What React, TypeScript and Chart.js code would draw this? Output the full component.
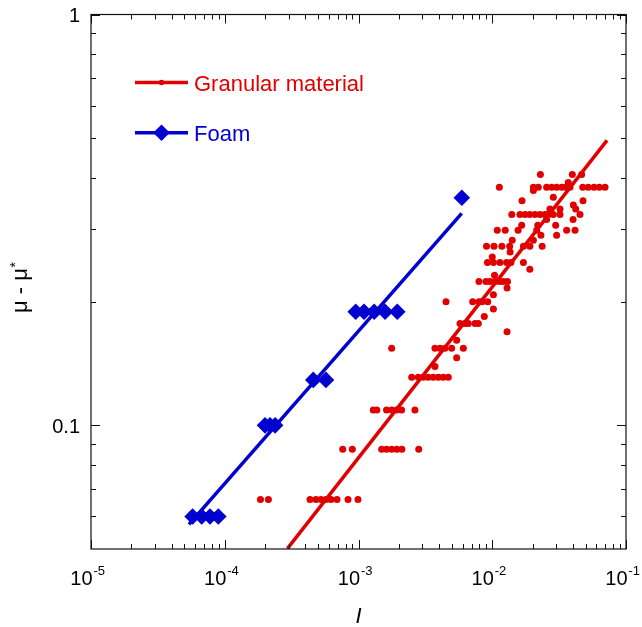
import { useEffect, useRef } from "react";
import { Chart, registerables } from "chart.js";

Chart.register(...registerables);

const RED = "#e00000";
const BLUE = "#0000d0";
const FONT = "'Liberation Sans', Arial, Helvetica, sans-serif";

// Granular material: friction levels (mu - mu*) and the inertial numbers I observed at each level
const GRANULAR_MU_LEVELS = [
  0.066, 0.0874, 0.109, 0.131, 0.139, 0.146, 0.154, 0.161, 0.169, 0.177, 0.184, 0.192,
  0.2, 0.208, 0.216, 0.224, 0.232, 0.24, 0.249, 0.257, 0.264, 0.273, 0.282, 0.29,
  0.2985, 0.307, 0.317, 0.326, 0.336, 0.344, 0.352, 0.359, 0.373, 0.38, 0.39, 0.408,
];
const GRANULAR_I_ROWS = [
  [1.85e-4, 2.12e-4, 4.34e-4, 4.81e-4, 5.24e-4, 5.71e-4, 6.23e-4, 6.91e-4, 8.35e-4, 9.91e-4],
  [7.62e-4, 8.99e-4, 1.49e-3, 1.62e-3, 1.77e-3, 1.93e-3, 2.11e-3, 2.82e-3],
  [1.29e-3, 1.37e-3, 1.62e-3, 1.77e-3, 1.93e-3, 2.1e-3, 2.64e-3],
  [2.5e-3, 2.8e-3, 3.05e-3, 3.32e-3, 3.62e-3, 3.95e-3, 4.31e-3, 4.69e-3],
  [3.73e-3],
  [5.42e-3],
  [1.77e-3, 3.73e-3, 4.07e-3, 4.43e-3, 4.97e-3, 6.08e-3],
  [5.42e-3],
  [1.29e-2],
  [5.74e-3, 6.26e-3, 6.62e-3, 7.43e-3, 7.87e-3],
  [8.72e-3],
  [1.02e-2],
  [4.51e-3, 7.14e-3, 7.96e-3, 8.38e-3, 9.25e-3],
  [1.02e-2],
  [1.29e-2],
  [7.96e-3, 8.98e-3, 9.62e-3, 1.05e-2, 1.14e-2, 1.21e-2, 1.3e-2],
  [1.04e-2],
  [1.91e-2],
  [9.21e-3, 1.02e-2, 1.14e-2, 1.28e-2, 1.38e-2, 1.71e-2],
  [1.0e-2],
  [1.36e-2],
  [9.06e-3, 1.03e-2, 1.18e-2, 1.35e-2, 1.71e-2, 1.91e-2, 2.36e-2],
  [1.41e-2, 2.03e-2],
  [2.31e-2, 3.03e-2],
  [1.09e-2, 1.25e-2, 1.56e-2, 2.15e-2, 3.6e-2, 4.16e-2],
  [1.66e-2, 2.19e-2, 2.98e-2],
  [2.55e-2, 4.02e-2],
  [1.4e-2, 1.61e-2, 1.76e-2, 1.91e-2, 2.09e-2, 2.28e-2, 2.48e-2, 2.62e-2, 2.86e-2, 3.21e-2, 4.53e-2],
  [2.7e-2, 3.21e-2, 4.21e-2],
  [4.04e-2],
  [1.67e-2, 4.77e-2],
  [2.86e-2],
  [2.03e-2],
  [1.13e-2, 2.03e-2, 2.21e-2, 2.55e-2, 2.78e-2, 3.03e-2, 3.31e-2, 3.56e-2, 3.81e-2, 4.75e-2, 5.22e-2, 5.77e-2, 6.31e-2, 6.97e-2],
  [3.7e-2],
  [2.29e-2, 3.97e-2, 4.66e-2],
];
const GRANULAR_FIT_I = [2.94e-4, 0.0721];
const GRANULAR_FIT_MU = [0.0501, 0.494];

// Foam
const FOAM_I = [
  5.75e-5, 6.72e-5, 7.76e-5, 8.95e-5, 2.0e-4, 2.18e-4, 2.38e-4, 4.59e-4, 5.71e-4,
  9.53e-4, 1.1e-3, 1.31e-3, 1.58e-3, 1.95e-3, 5.92e-3,
];
const FOAM_MU = [0.06, 0.06, 0.06, 0.06, 0.1, 0.1, 0.1, 0.129, 0.129, 0.189, 0.189, 0.189, 0.189, 0.189, 0.358];
const FOAM_FIT_I = [5.4e-5, 5.91e-3];
const FOAM_FIT_MU = [0.0574, 0.328];

// Axes
const X_MIN = 1e-5;
const X_MAX = 1e-1;
const Y_MIN = 0.05;
const Y_MAX = 1;
const X_TICK_VALUES = [1e-5, 1e-4, 1e-3, 1e-2, 1e-1];
const X_TICK_EXPONENTS = ["-5", "-4", "-3", "-2", "-1"];
const X_MINOR_MANTISSAS = [2, 3, 4, 5, 6, 7, 8, 9];
const X_MINOR_DECADES = [1e-5, 1e-4, 1e-3, 1e-2];
const Y_TICK_VALUES = [0.1, 1];
const Y_TICK_LABELS = ["0.1", "1"];
const Y_MINOR_VALUES = [0.06, 0.07, 0.08, 0.09, 0.2, 0.3, 0.4, 0.5, 0.6, 0.7, 0.8, 0.9];

const LEGEND_LABELS = ["Granular material", "Foam"];

const CANVAS_W = 642;
const CANVAS_H = 627;

const decorPlugin = {
  id: "decor",
  afterDraw(chart: any) {
    const { ctx, chartArea: a } = chart;
    const xs = chart.scales.x;
    const ys = chart.scales.y;
    ctx.save();

    // frame
    ctx.strokeStyle = "#111";
    ctx.lineWidth = 1.2;
    ctx.strokeRect(a.left, a.top, a.right - a.left, a.bottom - a.top);

    // inward ticks on all sides
    const MAJ = 9;
    const MIN = 5;
    ctx.lineWidth = 1;
    ctx.beginPath();
    const xTick = (v: number, len: number) => {
      const px = Math.round(xs.getPixelForValue(v)) + 0.5;
      ctx.moveTo(px, a.bottom);
      ctx.lineTo(px, a.bottom - len);
      ctx.moveTo(px, a.top);
      ctx.lineTo(px, a.top + len);
    };
    const yTick = (v: number, len: number) => {
      const py = Math.round(ys.getPixelForValue(v)) + 0.5;
      ctx.moveTo(a.left, py);
      ctx.lineTo(a.left + len, py);
      ctx.moveTo(a.right, py);
      ctx.lineTo(a.right - len, py);
    };
    X_TICK_VALUES.forEach((v) => xTick(v, MAJ));
    X_MINOR_DECADES.forEach((d) => X_MINOR_MANTISSAS.forEach((m) => xTick(m * d, MIN)));
    Y_TICK_VALUES.forEach((v) => yTick(v, MAJ));
    Y_MINOR_VALUES.forEach((v) => yTick(v, MIN));
    ctx.stroke();

    // x tick labels 10^n
    ctx.fillStyle = "#000";
    ctx.textBaseline = "alphabetic";
    ctx.textAlign = "left";
    X_TICK_VALUES.forEach((v, i) => {
      const px = xs.getPixelForValue(v);
      ctx.font = `20px ${FONT}`;
      const wBase = ctx.measureText("10").width;
      const start = px - wBase + 1.5;
      const base = a.bottom + 35.5;
      ctx.fillText("10", start, base);
      ctx.font = `13px ${FONT}`;
      ctx.fillText(X_TICK_EXPONENTS[i], start + wBase + 1, base - 10);
    });

    // y tick labels
    ctx.font = `20px ${FONT}`;
    ctx.textAlign = "right";
    Y_TICK_VALUES.forEach((v, i) => {
      const py = ys.getPixelForValue(v);
      ctx.fillText(Y_TICK_LABELS[i], a.left - 11, py + 7.5);
    });

    // y axis title: mu - mu*
    ctx.save();
    ctx.translate(a.left - 64, (a.top + a.bottom) / 2 + 6);
    ctx.rotate(-Math.PI / 2);
    ctx.textAlign = "left";
    ctx.font = `22px ${FONT}`;
    const main = "\u03bc - \u03bc";
    const wMain = ctx.measureText(main).width;
    ctx.font = `14px ${FONT}`;
    const wStar = ctx.measureText("*").width;
    const s0 = -(wMain + wStar) / 2;
    ctx.font = `22px ${FONT}`;
    ctx.fillText(main, s0, 0);
    ctx.font = `14px ${FONT}`;
    ctx.fillText("*", s0 + wMain + 0.5, -7);
    ctx.restore();

    // x axis title: I (italic)
    ctx.font = `italic 22px ${FONT}`;
    ctx.textAlign = "center";
    ctx.fillText("I", (a.left + a.right) / 2, a.bottom + 74);

    // legend
    const lx0 = a.left + 44;
    const lx1 = a.left + 97;
    const lmid = (lx0 + lx1) / 2;
    const tx = a.left + 103;
    const rows = [
      { y: a.top + 68, color: RED, marker: "dot" },
      { y: a.top + 118.2, color: BLUE, marker: "diamond" },
    ];
    rows.forEach((r, i) => {
      ctx.strokeStyle = r.color;
      ctx.fillStyle = r.color;
      ctx.lineWidth = 3.5;
      ctx.beginPath();
      ctx.moveTo(lx0, r.y);
      ctx.lineTo(lx1, r.y);
      ctx.stroke();
      ctx.beginPath();
      if (r.marker === "dot") {
        ctx.arc(lmid, r.y, 2.8, 0, Math.PI * 2);
      } else {
        const s = 8.3;
        ctx.moveTo(lmid - s, r.y);
        ctx.lineTo(lmid, r.y - s);
        ctx.lineTo(lmid + s, r.y);
        ctx.lineTo(lmid, r.y + s);
        ctx.closePath();
      }
      ctx.fill();
      ctx.font = `22px ${FONT}`;
      ctx.textAlign = "left";
      ctx.fillText(LEGEND_LABELS[i], tx, r.y + 8);
    });

    ctx.restore();
  },
};

export default function App() {
  const ref = useRef<HTMLCanvasElement | null>(null);

  useEffect(() => {
    if (!ref.current) return;
    const granular: { x: number; y: number }[] = [];
    GRANULAR_MU_LEVELS.forEach((mu, i) => {
      GRANULAR_I_ROWS[i].forEach((I) => granular.push({ x: I, y: mu }));
    });
    const foam = FOAM_I.map((I, i) => ({ x: I, y: FOAM_MU[i] }));
    const gFit = GRANULAR_FIT_I.map((I, i) => ({ x: I, y: GRANULAR_FIT_MU[i] }));
    const fFit = FOAM_FIT_I.map((I, i) => ({ x: I, y: FOAM_FIT_MU[i] }));

    const chart = new Chart(ref.current, {
      type: "scatter",
      data: {
        datasets: [
          {
            label: "Granular fit",
            data: gFit,
            showLine: true,
            borderColor: RED,
            borderWidth: 3.5,
            pointRadius: 0,
            order: 1,
          },
          {
            label: "Granular material",
            data: granular,
            pointStyle: "circle",
            pointRadius: 3.5,
            backgroundColor: RED,
            borderWidth: 0,
            order: 2,
          },
          {
            label: "Foam fit",
            data: fFit,
            showLine: true,
            borderColor: BLUE,
            borderWidth: 3.5,
            pointRadius: 0,
            order: 1,
          },
          {
            label: "Foam",
            data: foam,
            pointStyle: "rectRot",
            pointRadius: 8.3,
            backgroundColor: BLUE,
            borderColor: BLUE,
            borderWidth: 0,
            order: 0,
          },
        ],
      },
      options: {
        animation: false,
        responsive: false,
        devicePixelRatio: 1,
        events: [],
        layout: { padding: { left: 91, right: CANVAS_W - 626, top: 14.5, bottom: CANVAS_H - 549 } },
        plugins: { legend: { display: false }, tooltip: { enabled: false } },
        scales: {
          x: { type: "logarithmic", min: X_MIN, max: X_MAX, display: false },
          y: { type: "logarithmic", min: Y_MIN, max: Y_MAX, display: false },
        },
      },
      plugins: [decorPlugin],
    });
    return () => chart.destroy();
  }, []);

  return (
    <div style={{ width: CANVAS_W, height: CANVAS_H, overflow: "hidden" }}>
      <style>{"html,body{margin:0;padding:0;overflow:hidden;}"}</style>
      <canvas ref={ref} width={CANVAS_W} height={CANVAS_H} style={{ display: "block" }} />
    </div>
  );
}
